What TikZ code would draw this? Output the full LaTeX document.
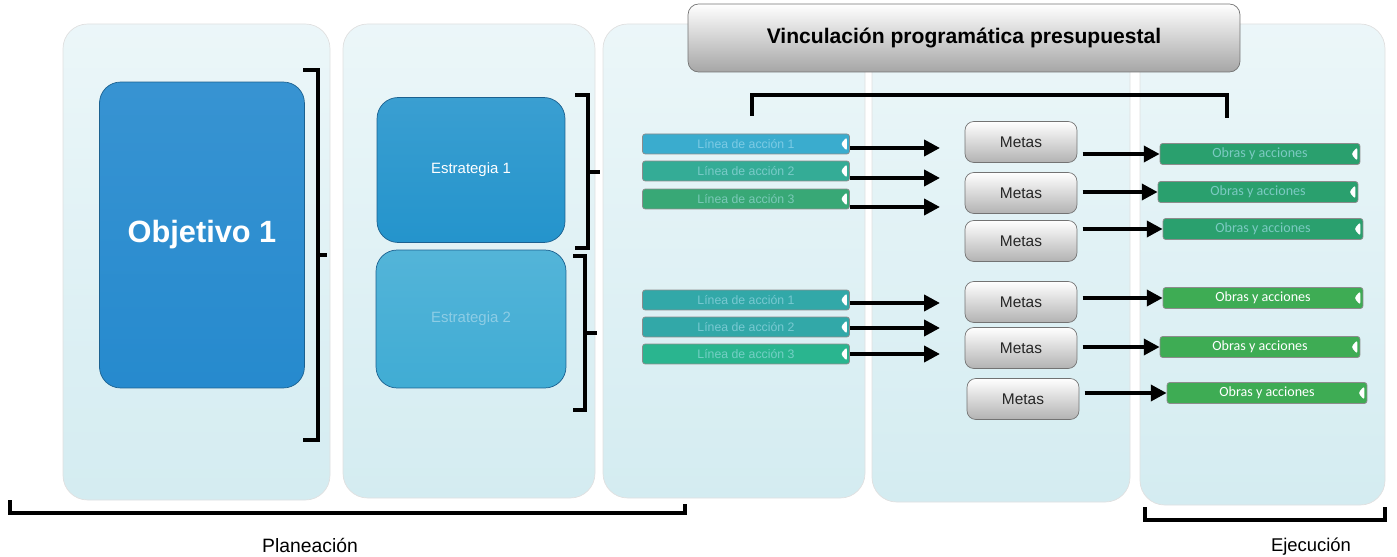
\documentclass[tikz,border=0pt]{standalone}
\usepackage{fontspec}
\setmainfont{Liberation Sans}
\newfontfamily\calib{Carlito}
\usetikzlibrary{arrows.meta}

\definecolor{colbg}{RGB}{212,236,241}
\definecolor{objblue}{RGB}{38,138,206}
\definecolor{estA}{RGB}{36,148,204}
\definecolor{estB}{RGB}{64,172,212}
\definecolor{barA}{RGB}{58,172,206}
\definecolor{barB}{RGB}{52,172,150}
\definecolor{barC}{RGB}{56,168,118}
\definecolor{barD}{RGB}{50,168,168}
\definecolor{obrA}{RGB}{42,160,110}
\definecolor{obrB}{RGB}{62,172,84}

\begin{document}
\begin{tikzpicture}[x=0.02cm, y=-0.02cm]
\tikzstyle{every node} = [inner sep=0pt]
\tikzstyle{col} = [top color=colbg!45!white, bottom color=colbg, draw=black!12, rounded corners=14pt]
\tikzstyle{bigbox} = [rounded corners=12pt, draw=objblue!70!black, text=white]
\tikzstyle{notch} = [path picture={\fill[white] ([xshift=-1.5pt,yshift=4pt]path picture bounding box.east) -- ++(-3.5pt,-4pt) -- ++(3.5pt,-4pt) -- cycle;}]
\tikzstyle{linea} = [notch, minimum width=4.14cm, minimum height=0.4cm, rounded corners=1.5pt, draw=black!45, text=cyan!25, text opacity=0.5, font=\fontsize{7}{8}\selectfont]
\tikzstyle{obras} = [notch, minimum width=4cm, minimum height=0.42cm, rounded corners=1.5pt, draw=black!45, font=\calib\fontsize{8}{9}\selectfont]
\tikzstyle{meta} = [minimum width=2.24cm, minimum height=0.82cm, rounded corners=5pt, draw=black!55, top color=white, bottom color=black!30, text=black!85, font=\fontsize{8.8}{10}\selectfont]
\tikzstyle{arr} = [-{Triangle[length=9pt,width=9pt]}, line width=2.2pt]
\tikzstyle{brk} = [line width=2.2pt]

\useasboundingbox (0,0) rectangle (1397,557);
% columns
\foreach \a/\b/\c in {63/330/500, 343/595/498, 603/865/498, 872/1130/502, 1140/1385/505}
\draw[col] (\a,24) rectangle (\b,\c);

% planeacion
\node[bigbox, top color=objblue!92!white, bottom color=objblue, minimum width=4.1cm, minimum height=6.12cm,
  font=\fontsize{17.5}{20}\selectfont\bfseries] (obj) at (202,235) {Objetivo 1};
\node[bigbox, top color=estA!90!white, bottom color=estA, minimum width=3.76cm, minimum height=2.9cm,
  font=\fontsize{8.5}{10}\selectfont] (e1) at (471,170) {Estrategia 1};
\node[bigbox, top color=estB!90!white, bottom color=estB, minimum width=3.8cm, minimum height=2.76cm,
  text=estB!60!white, font=\fontsize{8.5}{10}\selectfont] (e2) at (471,319) {Estrategia 2};

\draw[brk] (303,70) -- (318,70) -- (318,440) -- (303,440) (318,255) -- (327,255);
\draw[brk] (575,95) -- (588,95) -- (588,248) -- (575,248) (588,172) -- (600,172);
\draw[brk] (573,256) -- (585,256) -- (585,410) -- (573,410) (585,333) -- (597,333);

% lineas de accion
\node[linea, fill=barA] (l1) at (746,144) {Línea de acción 1};
\node[linea, fill=barB] (l2) at (746,171) {Línea de acción 2};
\node[linea, fill=barC] (l3) at (746,199) {Línea de acción 3};
\node[linea, fill=barD] (l4) at (746,300) {Línea de acción 1};
\node[linea, fill=barD] (l5) at (746,327) {Línea de acción 2};
\node[linea, fill=barD!85!green] (l6) at (746,354) {Línea de acción 3};

% metas
\node[meta] (m1) at (1021,142) {Metas};
\node[meta] (m2) at (1021,193) {Metas};
\node[meta] (m3) at (1021,241) {Metas};
\node[meta] (m4) at (1021,302) {Metas};
\node[meta] (m5) at (1021,348) {Metas};
\node[meta] (m6) at (1023,399) {Metas};

% obras
\node[obras, fill=obrA, text=cyan!30, text opacity=0.6] (o1) at (1260,154) {Obras y acciones};
\node[obras, fill=obrA, text=cyan!30, text opacity=0.6] (o2) at (1258,192) {Obras y acciones};
\node[obras, fill=obrA, text=cyan!30, text opacity=0.6] (o3) at (1263,229) {Obras y acciones};
\node[obras, fill=obrB, text=white] (o4) at (1263,298) {Obras y acciones};
\node[obras, fill=obrB, text=white] (o5) at (1260,347) {Obras y acciones};
\node[obras, fill=obrB, text=white] (o6) at (1267,393) {Obras y acciones};

\foreach \i/\y in {1/148, 2/178, 3/207, 4/303, 5/328, 6/354} {
\coordinate (t\i) at (940,\y);
\draw[arr] (l\i.east |- t\i) -- (t\i);
}
\foreach \i in {1,...,6}
\draw[arr, shorten <=3pt] (m\i.east |- o\i) -- (o\i.west);

% vinculacion
\node[minimum width=11.04cm, minimum height=1.36cm, rounded corners=6pt, draw=black!55, top color=white, bottom color=black!35,
  font=\fontsize{12}{14}\selectfont\bfseries] (vin) at (964,38) {Vinculación programática presupuestal};
\draw[brk] (752,116) -- (752,95) -- (1227,95) -- (1227,118);

% planeacion / ejecucion
\draw[brk] (10,500) -- (10,513) -- (685,513) -- (685,504);
\draw[brk] (1145,507) -- (1145,520) -- (1385,520) -- (1385,507);
\node[font=\fontsize{11}{13}\selectfont] (plan) at (310,545) {Planeación};
\node[font=\fontsize{10.5}{12}\selectfont] (ejec) at (1311,547) {Ejecución};
\end{tikzpicture}
\end{document}
